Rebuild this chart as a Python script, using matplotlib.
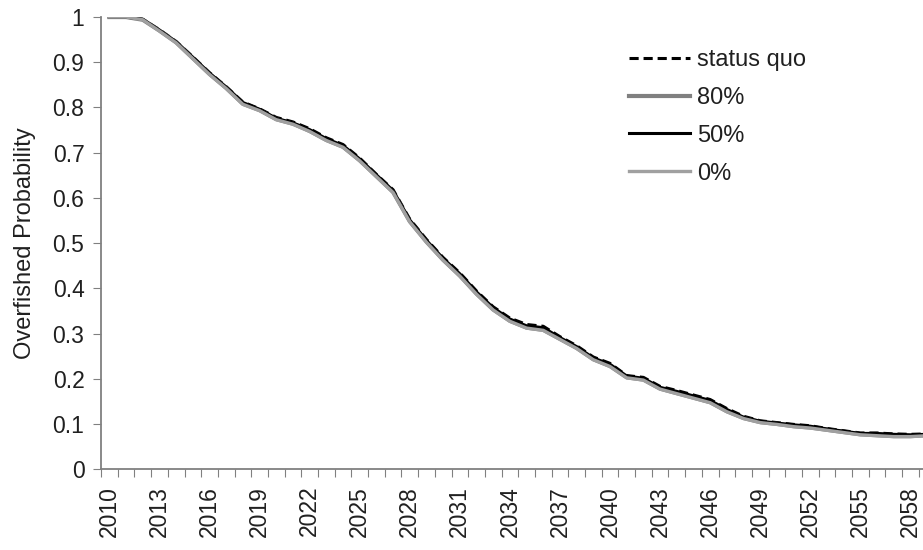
import numpy as np
import matplotlib.pyplot as plt

plt.rcParams['font.family'] = ['Liberation Sans', 'DejaVu Sans']

# Data (annual values, 2010-2059)
years = list(range(2010, 2060))
status_quo = [1.0, 1.0, 0.995, 0.972, 0.946, 0.912, 0.877, 0.846, 0.812, 0.797,
              0.778, 0.768, 0.753, 0.733, 0.718, 0.688, 0.652, 0.618, 0.553, 0.508,
              0.468, 0.434, 0.394, 0.359, 0.334, 0.320, 0.316, 0.293, 0.273, 0.248,
              0.234, 0.207, 0.203, 0.183, 0.174, 0.164, 0.154, 0.134, 0.117, 0.107,
              0.103, 0.099, 0.096, 0.090, 0.085, 0.080, 0.080, 0.078, 0.077, 0.078]
p80 = [1.0, 1.0, 0.994, 0.970, 0.944, 0.909, 0.874, 0.843, 0.808, 0.794,
       0.774, 0.764, 0.748, 0.728, 0.713, 0.683, 0.648, 0.613, 0.548, 0.503,
       0.463, 0.428, 0.388, 0.353, 0.328, 0.313, 0.308, 0.288, 0.268, 0.243,
       0.228, 0.203, 0.198, 0.178, 0.168, 0.158, 0.148, 0.128, 0.113, 0.104,
       0.100, 0.095, 0.092, 0.087, 0.082, 0.077, 0.075, 0.073, 0.073, 0.075]
p50 = [1.0, 1.0, 0.995, 0.971, 0.945, 0.911, 0.876, 0.845, 0.811, 0.796,
       0.776, 0.766, 0.751, 0.731, 0.716, 0.686, 0.651, 0.616, 0.551, 0.506,
       0.466, 0.432, 0.392, 0.357, 0.332, 0.317, 0.313, 0.291, 0.271, 0.246,
       0.232, 0.206, 0.201, 0.181, 0.172, 0.162, 0.152, 0.132, 0.115, 0.106,
       0.102, 0.098, 0.095, 0.089, 0.084, 0.079, 0.079, 0.077, 0.076, 0.077]
p0 = [1.0, 1.0, 0.994, 0.969, 0.943, 0.908, 0.873, 0.842, 0.807, 0.793,
      0.773, 0.763, 0.747, 0.727, 0.712, 0.682, 0.647, 0.612, 0.547, 0.502,
      0.462, 0.427, 0.387, 0.352, 0.327, 0.312, 0.307, 0.287, 0.267, 0.242,
      0.227, 0.202, 0.197, 0.177, 0.167, 0.157, 0.147, 0.127, 0.112, 0.103,
      0.099, 0.094, 0.091, 0.086, 0.081, 0.076, 0.074, 0.072, 0.072, 0.074]
ytick_vals = [0, 0.1, 0.2, 0.3, 0.4, 0.5, 0.6, 0.7, 0.8, 0.9, 1]
ytick_labels = ['0', '0.1', '0.2', '0.3', '0.4', '0.5', '0.6', '0.7', '0.8', '0.9', '1']

fig = plt.figure(figsize=(9.23, 5.5), dpi=100)
ax = fig.add_axes([0.1095, 0.147, 0.904, 0.822])

ax.plot(years, status_quo, color='black', lw=2.2, ls=(0, (3, 1.6)), label='status quo')
ax.plot(years, p80, color='#808080', lw=3, label='80%')
ax.plot(years, p50, color='black', lw=2.2, label='50%')
ax.plot(years, p0, color='#a0a0a0', lw=2.4, label='0%')

ax.set_xlim(2009.5, 2059.5)
ax.set_ylim(0, 1)

# Excel-style category axis: ticks between years, labels every 3rd year
ax.set_xticks(np.arange(2009.5, 2060, 1))
ax.set_xticklabels([])
ax.set_xticks(years[::3], minor=True)
ax.set_xticklabels([str(y) for y in years[::3]], minor=True, rotation=90)
ax.tick_params(axis='x', which='major', direction='out', length=6, color='#808080')
ax.tick_params(axis='x', which='minor', length=0, pad=12, labelsize=16.5, labelcolor='#202020')

ax.set_yticks(ytick_vals)
ax.set_yticklabels(ytick_labels)
ax.tick_params(axis='y', direction='out', length=6, color='#808080', labelcolor='#202020',
               labelsize=16.5, pad=6)

for s in ['top', 'right']:
    ax.spines[s].set_visible(False)
for s in ['left', 'bottom']:
    ax.spines[s].set_color('#808080')
    ax.spines[s].set_linewidth(1.3)

ax.set_ylabel('Overfished Probability', fontsize=17, color='#202020')
ax.yaxis.set_label_coords(-0.078, 0.5)

ax.legend(loc='upper left', bbox_to_anchor=(0.621, 0.95), frameon=False, fontsize=17,
          handlelength=2.6, handletextpad=0.3, labelspacing=0.67, borderaxespad=0,
          labelcolor='#202020')

fig.savefig('out.png', dpi=100)
